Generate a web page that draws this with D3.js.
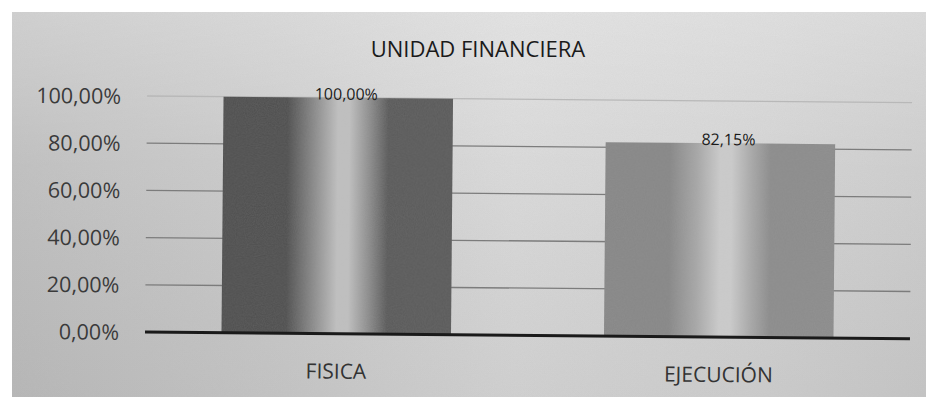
<!DOCTYPE html>
<html><head><meta charset="utf-8">
<script src="https://cdn.jsdelivr.net/npm/d3@7"></script>
<style>html,body{margin:0;padding:0;background:#fff;}svg{display:block;}</style>
</head><body>
<script>
const title = "UNIDAD FINANCIERA";
const categories = ["FISICA", "EJECUCIÓN"];
const values = [1.0, 0.8215];
const valueLabels = ["100,00%", "82,15%"];
const yTicks = [0, 0.2, 0.4, 0.6, 0.8, 1.0];
const yTickLabels = ["0,00%", "20,00%", "40,00%", "60,00%", "80,00%", "100,00%"];

(function(){
const W = 931, H = 403;
const svg = d3.select("body").append("svg").attr("width", W).attr("height", H);
const defs = svg.append("defs");

const bg = defs.append("linearGradient").attr("id","bg").attr("x1","0").attr("x2","1").attr("y1","0").attr("y2","0");
[[0,"#bdbdbd"],[0.3,"#cbcbcb"],[0.55,"#d9d9d9"],[0.8,"#d4d4d4"],[1,"#cccccc"]].forEach(([o,c])=>bg.append("stop").attr("offset",o).attr("stop-color",c));
const bgv = defs.append("linearGradient").attr("id","bgv").attr("x1","0").attr("x2","0").attr("y1","0").attr("y2","1");
[[0,"#ffffff",0.3],[0.4,"#ffffff",0.05],[1,"#000000",0.04]].forEach(([o,c,a])=>bgv.append("stop").attr("offset",o).attr("stop-color",c).attr("stop-opacity",a));

const noise = defs.append("filter").attr("id","grain").attr("x",0).attr("y",0).attr("width","100%").attr("height","100%");
noise.append("feTurbulence").attr("type","fractalNoise").attr("baseFrequency",0.9).attr("numOctaves",2).attr("seed",3).attr("result","n");
noise.append("feColorMatrix").attr("in","n").attr("type","matrix")
  .attr("values","0 0 0 0 0.5  0 0 0 0 0.5  0 0 0 0 0.5  0 0 0 0.18 0").attr("result","g");
noise.append("feComposite").attr("in","g").attr("in2","SourceGraphic").attr("operator","in");

svg.append("rect").attr("x",12).attr("y",12).attr("width",914).attr("height",385).attr("fill","url(#bg)");
svg.append("rect").attr("x",12).attr("y",12).attr("width",914).attr("height",385).attr("fill","url(#bgv)");
svg.append("rect").attr("x",12).attr("y",12).attr("width",914).attr("height",385).attr("fill","#808080").attr("filter","url(#grain)");

function barGrad(id, edgeL, mid, light, edgeR) {
  const g = defs.append("linearGradient").attr("id",id).attr("x1","0").attr("x2","1").attr("y1","0").attr("y2","0");
  [[0,edgeL],[0.28,edgeL],[0.4,mid],[0.5,light],[0.55,light],[0.64,mid],[0.72,edgeR],[1,edgeR]].forEach(([o,c])=>g.append("stop").attr("offset",o).attr("stop-color",c));
}
barGrad("g0", "#4c4c4c", "#8a8a8a", "#bfbfbf", "#575757");
barGrad("g1", "#858585", "#a6a6a6", "#cbcbcb", "#8a8a8a");

const font = "Open Sans, sans-serif";
const pLeft = 145, pRight = 910, pTop = 96, pBottom = 332;
const g = svg.append("g").attr("transform", `rotate(0.5, ${pLeft}, ${pBottom})`);

const x = d3.scaleBand().domain(categories).range([pLeft, pRight]).paddingInner(0.4).paddingOuter(0.2);
const y = d3.scaleLinear().domain([0, 1]).range([pBottom, pTop]);

g.append("g").selectAll("line").data(yTicks.filter(d=>d>0)).join("line")
  .attr("x1", pLeft).attr("x2", pRight)
  .attr("y1", d=>y(d)).attr("y2", d=>y(d))
  .attr("stroke", d=> d===1 ? "#b8b8b8" : "#7c7c7c").attr("stroke-width", 1.3);

const yAxis = d3.axisLeft(y).tickValues(yTicks).tickFormat((d,i)=>yTickLabels[i]).tickSize(0).tickPadding(26);
const ya = g.append("g").attr("transform", `translate(${pLeft},0)`).call(yAxis);
ya.select(".domain").remove();
ya.selectAll("text").attr("font-family", font).attr("font-size", 21.5).attr("fill", "#3a3a3a").attr("dy","0.35em");

g.append("g").selectAll("rect").data(values).join("rect")
  .attr("x", (d,i)=>x(categories[i])).attr("width", x.bandwidth())
  .attr("y", d=>y(d)).attr("height", d=>y(0)-y(d))
  .attr("fill", (d,i)=>`url(#g${i})`);
g.append("g").selectAll("rect").data(values).join("rect")
  .attr("x", (d,i)=>x(categories[i])).attr("width", x.bandwidth())
  .attr("y", d=>y(d)).attr("height", d=>y(0)-y(d))
  .attr("fill", "#808080").attr("filter","url(#grain)");

g.append("g").selectAll("text").data(values).join("text")
  .attr("x", (d,i)=>x(categories[i]) + x.bandwidth()/2 + 8)
  .attr("y", d=>y(d) + 2)
  .attr("text-anchor","middle").attr("font-family", font).attr("font-size", 16)
  .attr("fill","#1a1a1a").text((d,i)=>valueLabels[i]);

g.append("line").attr("x1", pLeft).attr("x2", pRight).attr("y1", y(0)).attr("y2", y(0))
  .attr("stroke", "#1a1a1a").attr("stroke-width", 3);

g.append("g").selectAll("text").data(categories).join("text")
  .attr("x", d=>x(d) + x.bandwidth()/2).attr("y", y(0) + 45)
  .attr("text-anchor","middle").attr("font-family", font).attr("font-size", 21)
  .attr("fill","#333").text(d=>d);

svg.append("text").attr("x", 478).attr("y", 57).attr("text-anchor","middle")
  .attr("font-family", font).attr("font-size", 22).attr("fill","#1a1a1a").text(title);
})();
</script>
</body></html>
